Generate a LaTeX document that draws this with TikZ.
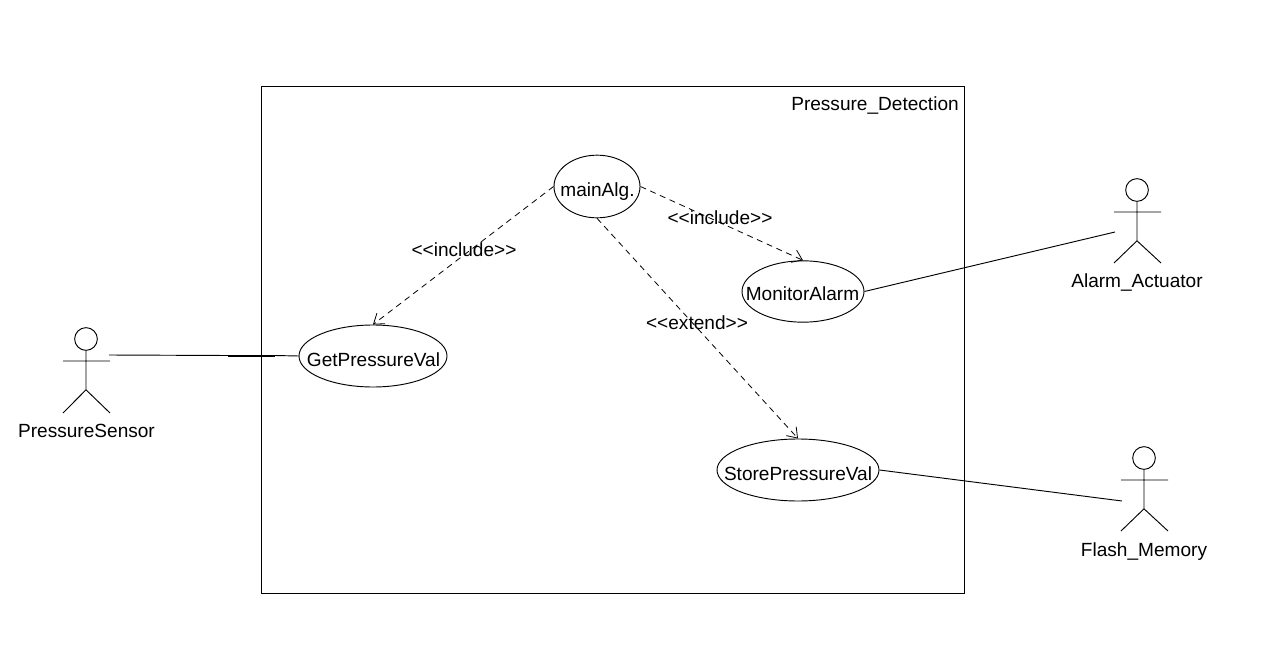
\documentclass[tikz,border=0pt]{standalone}
\usepackage{fontspec}
\setmainfont{Liberation Sans}
\usetikzlibrary{arrows.meta,shapes.geometric}
\tikzset{
 x=0.75pt,y=-0.75pt,
 usecase/.style={draw,line width=0.7pt,ellipse,inner sep=0pt,fill=white},
 lbl/.style={font=\fontsize{14.3pt}{16pt}\selectfont,inner sep=0pt},
 assoc/.style={line width=0.7pt},
 dep/.style={line width=0.6pt,dash pattern=on 4.5pt off 3.5pt,-{Straight Barb[length=7pt,width=10pt,line width=0.6pt]}},
 limb/.style={line width=0.7pt},
 head/.style={draw,circle,line width=0.7pt,minimum size=17pt,inner sep=0pt},
}
\begin{document}
\begin{tikzpicture}
\useasboundingbox (0,0) rectangle (1265,667);
\fill[white] (0,0) rectangle (1265,667);
\node[draw,line width=0.7pt,inner sep=0pt,anchor=north west,minimum width=527.25pt,minimum height=380.25pt] (sys) at (261,86) {};
\node[lbl,anchor=north east] (title) at (959,96.5) {Pressure\_Detection};
\node[usecase,minimum width=64.5pt,minimum height=47pt] (main) at (597,186.5) {};
\node[lbl] (mainT) at (597.5,191.5) {mainAlg.};
\node[usecase,minimum width=111pt,minimum height=46.5pt] (get) at (373,356) {};
\node[lbl] (getT) at (373.5,360) {GetPressureVal};
\node[usecase,minimum width=91.5pt,minimum height=46pt] (mon) at (803,291.5) {};
\node[lbl] (monT) at (802.5,293.5) {MonitorAlarm};
\node[usecase,minimum width=121.5pt,minimum height=46.5pt] (sto) at (798,470) {};
\node[lbl] (stoT) at (798,473.5) {StorePressureVal};
% actors
\node[head] (a1) at (86,339) {};
\draw[limb] (a1.south) -- ++(0,39) coordinate (a1h) (63,361) -- (110,361) (a1h) -- (63,413) (a1h) -- (110,413);
\node[lbl] (a1T) at (86.5,431) {PressureSensor};
\node[head] (a2) at (1137,190) {};
\draw[limb] (a2.south) -- ++(0,39) coordinate (a2h) (1114,212) -- (1161,212) (a2h) -- (1114,263) (a2h) -- (1161,263);
\node[lbl] (a2T) at (1137,282) {Alarm\_Actuator};
\node[head] (a3) at (1144,458) {};
\draw[limb] (a3.south) -- ++(0,39) coordinate (a3h) (1121,480) -- (1168,480) (a3h) -- (1121,531) (a3h) -- (1168,531);
\node[lbl] (a3T) at (1144,552) {Flash\_Memory};
% connectors
\coordinate (c1) at (109,355);
\coordinate (c1a) at (228,355.5);
\coordinate (c1b) at (275,355.5);
\coordinate (c2) at (1115,232);
\coordinate (c3) at (1122,501);
\draw[assoc] (c1) -- (c1a);
\draw[line width=1.5pt] (c1a) -- (c1b);
\draw[assoc] (c1b) -- (get.west);
\draw[assoc] (mon.east) -- (c2);
\draw[assoc] (sto.east) -- (c3);
\draw[dep] (main.west) -- (get.north);
\draw[dep] (main.east) -- (mon.north);
\draw[dep] (main.south) -- (sto.north);
\node[lbl] (i1) at (464,249.5) {<{}<include>{}>};
\node[lbl] (i2) at (720,217.5) {<{}<include>{}>};
\node[lbl] (e1) at (697,322.5) {<{}<extend>{}>};
\end{tikzpicture}
\end{document}
